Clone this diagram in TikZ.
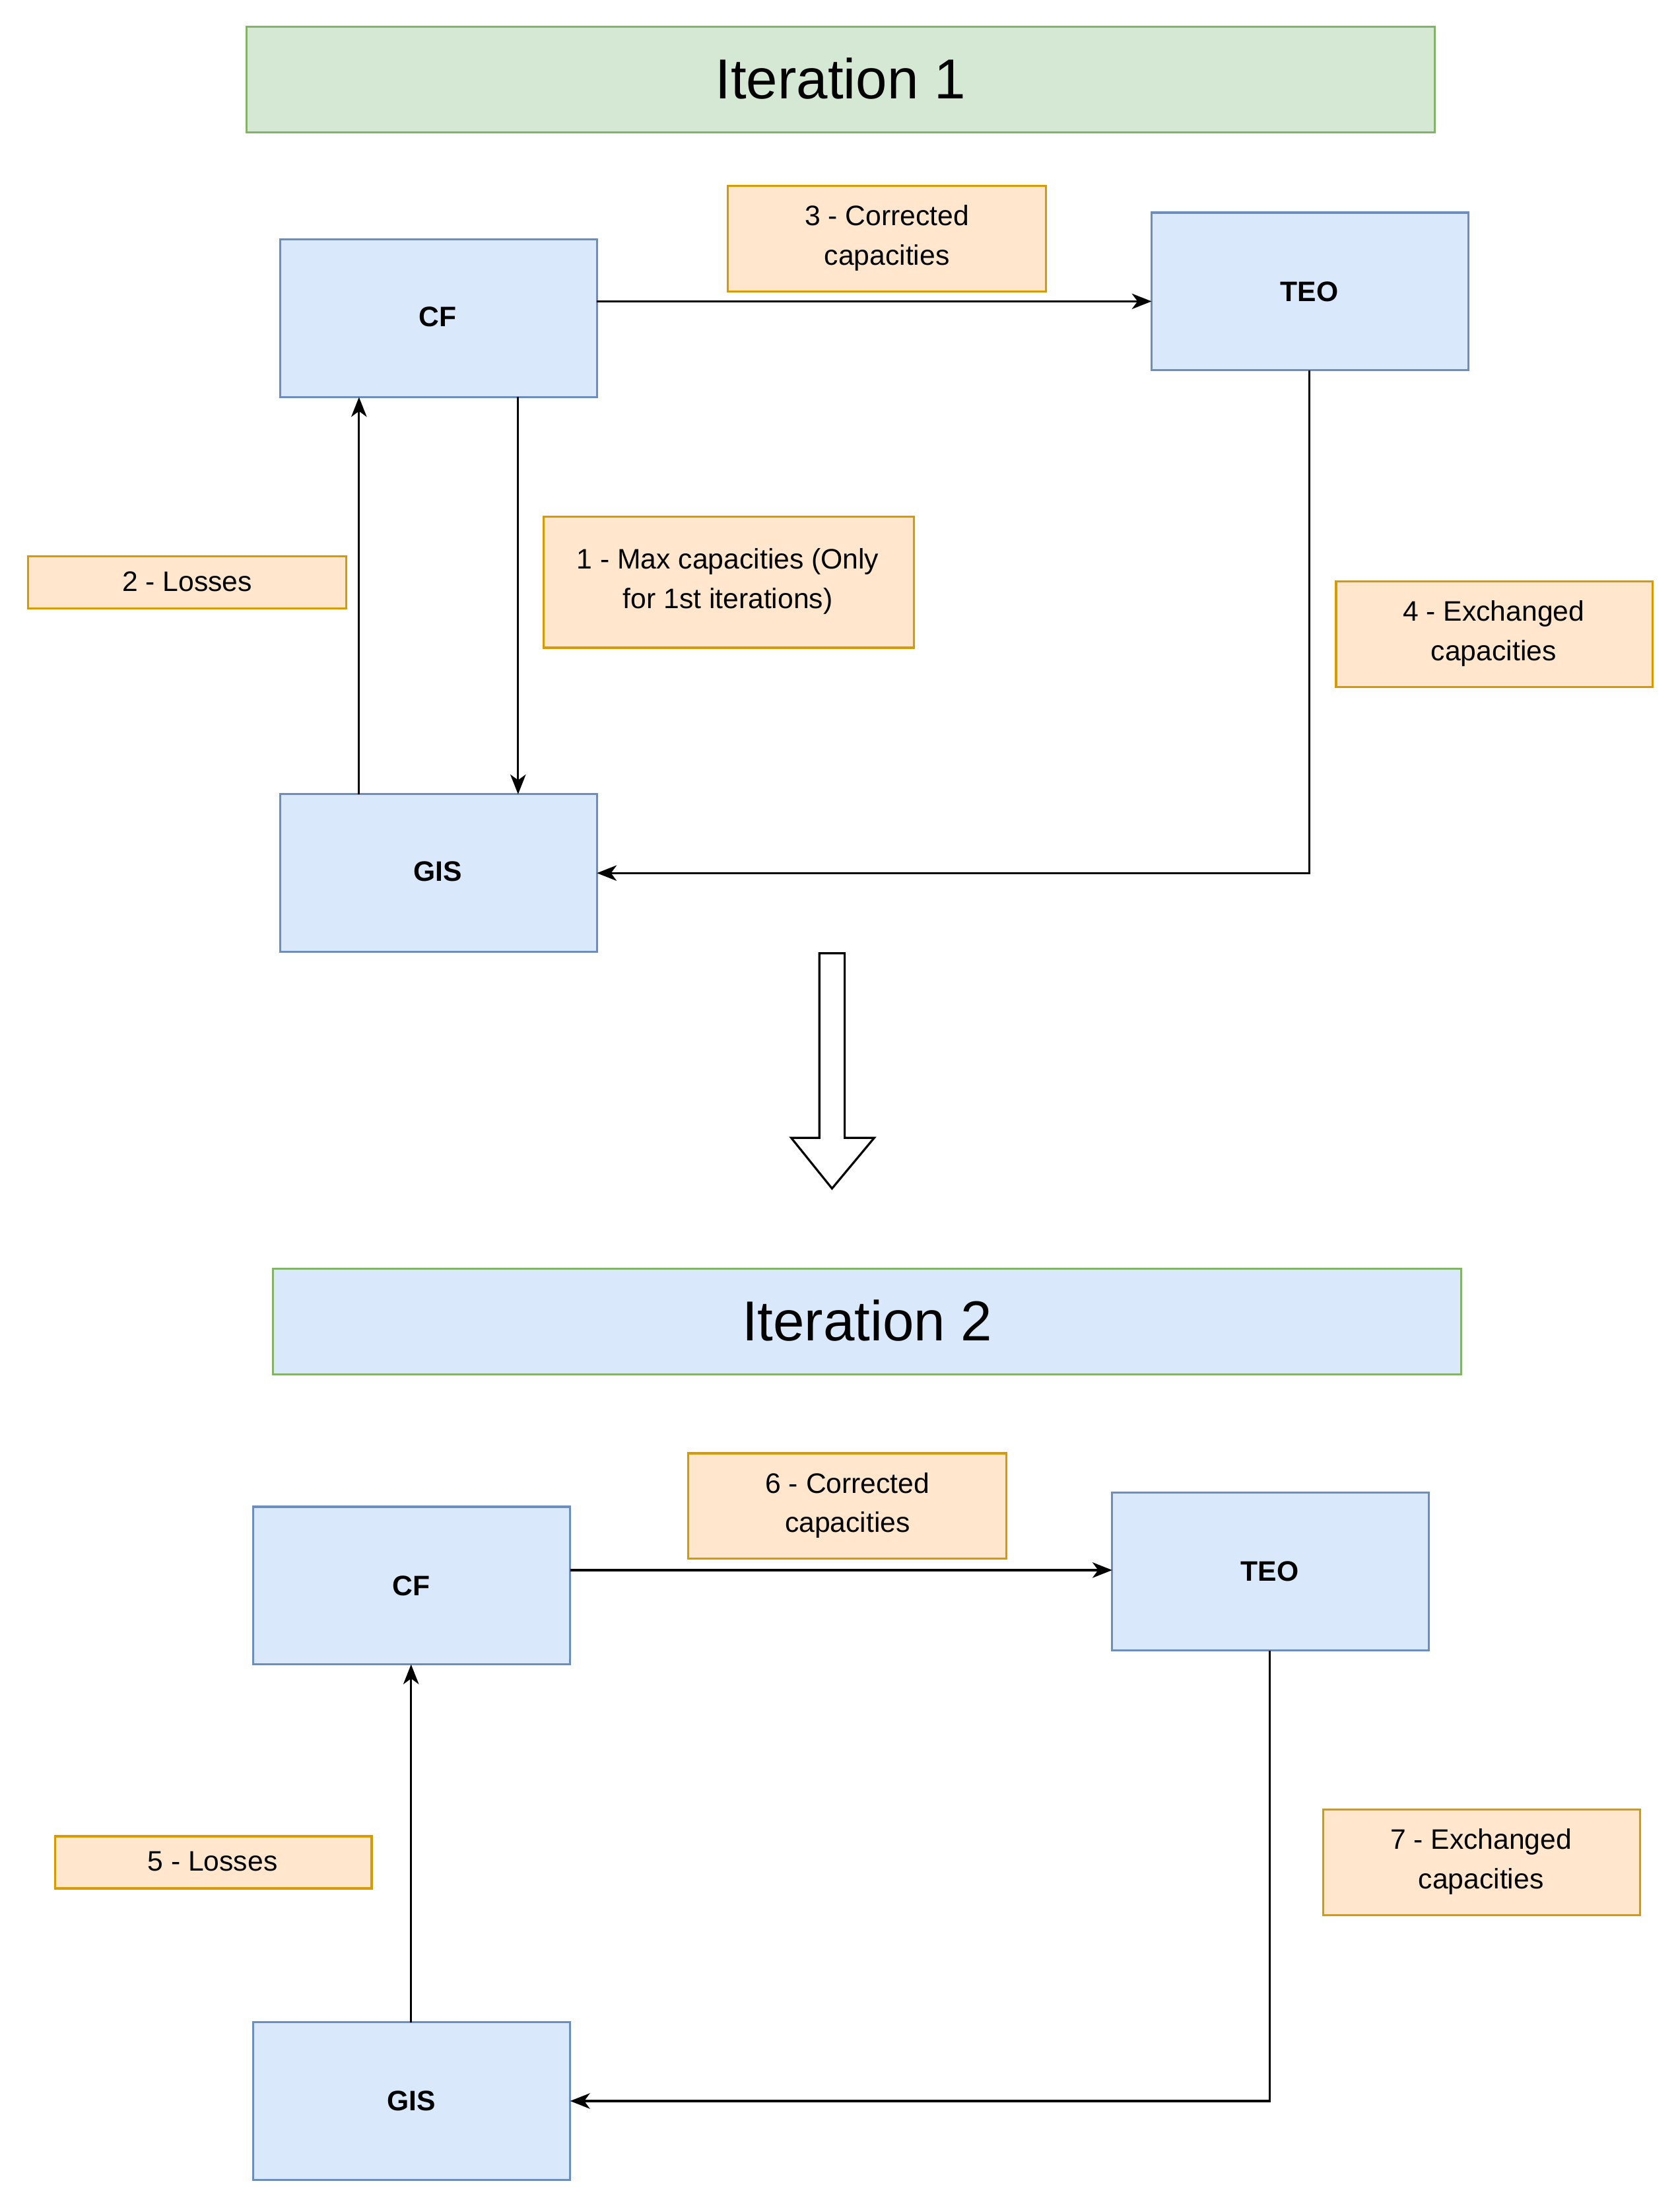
\documentclass[tikz,border=0pt]{standalone}
\usepackage{fontspec}
\setmainfont{Liberation Sans}
\usetikzlibrary{arrows.meta}
\definecolor{bfill}{HTML}{DAE8FC}\definecolor{bdraw}{HTML}{6C8EBF}
\definecolor{gfill}{HTML}{D5E8D4}\definecolor{gdraw}{HTML}{82B366}
\definecolor{ofill}{HTML}{FFE6CC}\definecolor{odraw}{HTML}{D79B00}
\begin{document}
\begin{tikzpicture}[x=1pt,y=-1pt,line width=1.5pt,
 box/.style={draw=bdraw,fill=bfill,font=\fontsize{20}{24}\selectfont\bfseries},
 lab/.style={draw=odraw,fill=ofill,align=center,font=\fontsize{20}{28}\selectfont},
 ttl/.style={draw=gdraw,font=\fontsize{40}{48}\selectfont},
 arr/.style={-{Stealth[length=14pt,width=11pt,inset=4pt]}}]
\useasboundingbox (0,0) rectangle (1193,1568);
\newcommand\bx[6]{\filldraw[#6] (#2,#3) rectangle (#4,#5); \node (#1) at ({(#2+#4)/2},{(#3+#5)/2}) {};}
% iteration 1
\filldraw[ttl,fill=gfill] (175,19) rectangle (1019,94);
\node[font=\fontsize{40}{48}\selectfont] (t1) at (597,56) {Iteration 1};
\filldraw[box] (199,170) rectangle (424,282); \node[box,draw=none] (cf1) at (311,225) {CF};
\filldraw[box] (818,151) rectangle (1043,263); \node[box,draw=none] (teo1) at (930,207) {TEO};
\filldraw[box] (199,564) rectangle (424,676); \node[box,draw=none] (gis1) at (311,619) {GIS};
\filldraw[lab] (517,132) rectangle (743,207); \node[lab,draw=none,fill=none] (l3) at (630,169) {3 - Corrected\\capacities};
\filldraw[lab] (386,367) rectangle (649,460); \node[lab,draw=none,fill=none] (l1) at (517,413) {1 - Max capacities (Only\\for 1st iterations)};
\filldraw[lab] (20,395) rectangle (246,432); \node[lab,draw=none,fill=none] (l2) at (133,413) {2 - Losses};
\filldraw[lab] (949,413) rectangle (1174,488); \node[lab,draw=none,fill=none] (l4) at (1061,450) {4 - Exchanged\\capacities};
\coordinate (a1s) at (424,214); \coordinate (a1e) at (818,214);
\draw[arr] (a1s) -- (a1e);
\coordinate (a2s) at (368,282); \coordinate (a2e) at (368,564);
\draw[arr] (a2s) -- (a2e);
\coordinate (a3s) at (255,564); \coordinate (a3e) at (255,282);
\draw[arr] (a3s) -- (a3e);
\coordinate (a4s) at (930,263); \coordinate (a4c) at (930,620); \coordinate (a4e) at (424,620);
\draw[arr] (a4s) -- (a4c) -- (a4e);
% big arrow
\draw[line width=1.5pt,fill=white,line join=miter] (582,677) -- (600,677) -- (600,808) -- (621,808) -- (591,844) -- (562,808) -- (582,808) -- cycle;
% iteration 2
\filldraw[ttl,fill=bfill] (194,901) rectangle (1038,976);
\node[font=\fontsize{40}{48}\selectfont] (t2) at (616,938) {Iteration 2};
\filldraw[box] (180,1070) rectangle (405,1182); \node[box,draw=none] (cf2) at (292,1126) {CF};
\filldraw[box] (790,1060) rectangle (1015,1172); \node[box,draw=none] (teo2) at (902,1116) {TEO};
\filldraw[box] (180,1436) rectangle (405,1548); \node[box,draw=none] (gis2) at (292,1492) {GIS};
\filldraw[lab] (489,1032) rectangle (715,1107); \node[lab,draw=none,fill=none] (l6) at (602,1069) {6 - Corrected\\capacities};
\filldraw[lab] (39,1304) rectangle (264,1341); \node[lab,draw=none,fill=none] (l5) at (151,1322) {5 - Losses};
\filldraw[lab] (940,1285) rectangle (1165,1360); \node[lab,draw=none,fill=none] (l7) at (1052,1322) {7 - Exchanged\\capacities};
\coordinate (b1s) at (405,1115); \coordinate (b1e) at (790,1115);
\draw[arr] (b1s) -- (b1e);
\coordinate (b2s) at (292,1436); \coordinate (b2e) at (292,1182);
\draw[arr] (b2s) -- (b2e);
\coordinate (b3s) at (902,1172); \coordinate (b3c) at (902,1492); \coordinate (b3e) at (405,1492);
\draw[arr] (b3s) -- (b3c) -- (b3e);
\end{tikzpicture}
\end{document}
